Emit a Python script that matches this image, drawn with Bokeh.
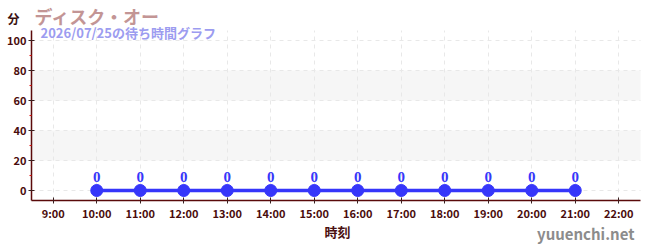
from bokeh.plotting import figure
from bokeh.models import FixedTicker, Label, Range1d, ColumnDataSource, LabelSet, LinearAxis, Grid
from bokeh.embed import file_html
from bokeh.resources import INLINE

# ---- data ----
hours = [10, 11, 12, 13, 14, 15, 16, 17, 18, 19, 20, 21]
wait_minutes = [0, 0, 0, 0, 0, 0, 0, 0, 0, 0, 0, 0]
tick_hours = [9, 10, 11, 12, 13, 14, 15, 16, 17, 18, 19, 20, 21, 22]
tick_labels = ["9:00", "10:00", "11:00", "12:00", "13:00", "14:00", "15:00",
               "16:00", "17:00", "18:00", "19:00", "20:00", "21:00", "22:00"]
y_ticks = [0, 20, 40, 60, 80, 100]
y_minor_ticks = [10, 30, 50, 70, 90]
band_ticks = [20, 40, 60, 80]
title_text = "ディスク・オー"
subtitle_text = "2026/07/25の待ち時間グラフ"
x_label = "時刻"
y_label = "分"
watermark = "yuuenchi.net"

FONT = "Noto Sans CJK JP"
AXIS_COL = "#5a0a0a"
TXT_COL = "#4a0c0c"
BLUE = "#3636fa"

W, H = 650, 250
# plot area (axes extent) in data units
X0, X1 = 8.5, 22.5
Y0, Y1 = -6.67, 106.67
# canvas layout: axes box from px 31..640 horizontally, 30..200 vertically
pxl, pxr, pyt, pyb = 31, 640, 30, 200
sx = (X1 - X0) / (pxr - pxl)
sy = (Y1 - Y0) / (pyb - pyt)

p = figure(width=W, height=H, output_backend="svg", toolbar_location=None,
           x_axis_location=None, y_axis_location=None,
           min_border=0, min_border_left=0, min_border_right=0,
           min_border_top=0, min_border_bottom=0)
p.x_range = Range1d(X0 - pxl * sx, X1 + (W - pxr) * sx)
p.y_range = Range1d(Y0 - (H - pyb) * sy, Y1 + pyt * sy)
p.outline_line_color = None
p.background_fill_color = "white"
p.border_fill_color = "white"
p.xgrid.visible = False
p.ygrid.visible = False

# axes drawn at fixed locations
xaxis = LinearAxis(ticker=FixedTicker(ticks=tick_hours), fixed_location=Y0, bounds=(X0, X1))
xaxis.major_label_overrides = {h: l for h, l in zip(tick_hours, tick_labels)}
yaxis = LinearAxis(ticker=FixedTicker(ticks=y_ticks, minor_ticks=y_minor_ticks),
                   fixed_location=X0, bounds=(Y0, Y1))
for ax in (xaxis, yaxis):
    ax.axis_line_color = AXIS_COL
    ax.axis_line_width = 1.5
    ax.major_tick_line_color = "#3a2020"
    ax.major_tick_in = 3
    ax.major_tick_out = 3
    ax.major_label_text_font = FONT
    ax.major_label_text_font_style = "bold"
    ax.major_label_text_font_size = "11px"
    ax.major_label_text_color = TXT_COL
xaxis.major_label_standoff = 1
yaxis.major_label_standoff = 2
xaxis.minor_tick_line_color = None
yaxis.minor_tick_line_color = "#e01010"
yaxis.minor_tick_in = 0
yaxis.minor_tick_out = 2
p.add_layout(xaxis, "below")
p.add_layout(yaxis, "left")

# grids
band_grid = Grid(dimension=1, ticker=FixedTicker(ticks=band_ticks), grid_line_color=None,
                 band_fill_color="#f6f6f6", band_fill_alpha=1.0, cross_bounds=(X0, X1))
xgrid = Grid(dimension=0, ticker=FixedTicker(ticks=tick_hours), grid_line_color="#e8e8e8",
             grid_line_dash="4 4", cross_bounds=(Y0, Y1))
ygrid = Grid(dimension=1, ticker=FixedTicker(ticks=y_ticks), grid_line_color="#e8e8e8",
             grid_line_dash="4 4", cross_bounds=(X0, X1))
p.add_layout(band_grid)
p.add_layout(xgrid)
p.add_layout(ygrid)

# data
src = ColumnDataSource(dict(x=hours, y=wait_minutes, t=[str(v) for v in wait_minutes]))
p.line("x", "y", source=src, line_color=BLUE, line_width=3.3)
p.scatter("x", "y", source=src, size=12, fill_color=BLUE, line_color=BLUE)
p.add_layout(LabelSet(x="x", y="y", text="t", source=src, y_offset=13,
                      text_align="center", text_baseline="middle",
                      text_font=FONT, text_font_style="bold", text_font_size="15px",
                      text_color=BLUE))

# texts (screen units from canvas bottom-left)
def lab(text, x, y, size, color, align="left"):
    p.add_layout(Label(x=x, y=H - y, x_units="screen", y_units="screen", text=text,
                       text_font=FONT, text_font_style="bold", text_font_size=size,
                       text_color=color, text_align=align, text_baseline="middle"))

lab(y_label, 13, 18, "12px", "#3a1010", "center")
lab(title_text, 34, 15, "18px", "#c39595")
lab(subtitle_text, 40, 32, "13px", "#9c9cf0")
lab(x_label, 337, 231, "13px", "#4a1010", "center")
lab(watermark, 634, 233, "15px", "#8c8c8c", "right")

open("out.html", "w").write(file_html(p, INLINE))
